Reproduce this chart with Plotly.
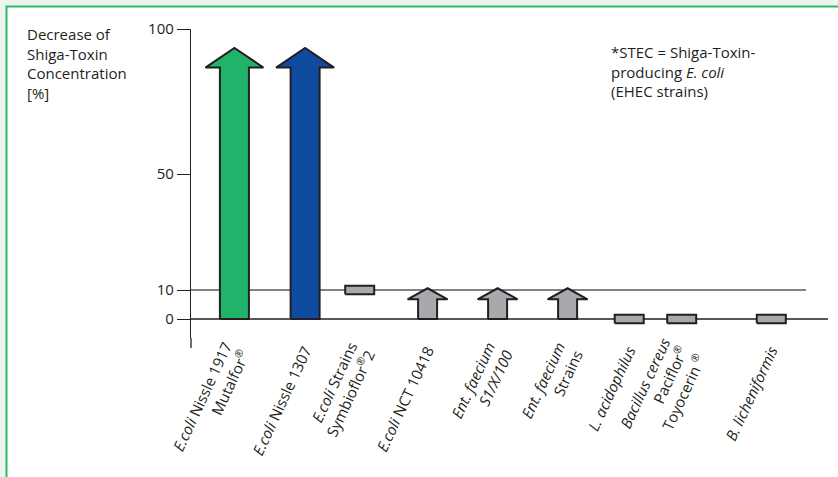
import plotly.graph_objects as go

# ---------------- data ----------------
categories = [
    "<i>E.coli</i> Nissle 1917<br>Mutalfor<sup>®</sup>",
    "<i>E.coli</i> Nissle 1307",
    "<i>E.coli</i> Strains<br>Symbioflor<sup>®</sup>2",
    "<i>E.coli</i> NCT 10418",
    "<i>Ent. faecium</i><br><i>S1/X/100</i>",
    "<i>Ent. faecium</i><br>Strains",
    "<i>L. acidophilus</i>",
    "<i>Bacillus cereus</i><br>Paciflor<sup>®</sup><br>Toyocerin <sup>®</sup>",
    "<i>B. licheniformis</i>",
]
values = [93.5, 93.5, 10, 10.6, 10.6, 10.6, 0, 0, 0]
kinds = ["arrow", "arrow", "bar", "arrow", "arrow", "arrow", "bar", "bar", "bar"]
colors = ["#22b36b", "#0f4c9f", "#a7a9ac", "#a7a9ac", "#a7a9ac",
          "#a7a9ac", "#a7a9ac", "#a7a9ac", "#a7a9ac"]
y_ticks = [0, 10, 50, 100]
ref_lines = [0, 10]

# category slot positions along the x axis
x_pos = [0.62, 1.63, 2.41, 3.38, 4.38, 5.38, 6.26, 7.01, 8.29]

# ---------------- layout geometry ----------------
W, H = 838, 477
PL, PR, PT = 191, 828, 29        # plot area pixels
PY0 = 319                        # pixel of y = 0
PXU = 2.9                        # pixels per y unit
PB = 338                         # plot bottom pixel
XMAX = 9.1
XU = (PR - PL) / XMAX            # pixels per x unit
ymin = -(PB - PY0) / PXU

def px2paper_x(px):
    return (px - PL) / (PR - PL)

def px2paper_y(py):
    return (PB - py) / (PB - PT)

DARK = "#231f20"
LINE = "#58595b"
FONT = "Open Sans"

fig = go.Figure()

for x, v, k, c in zip(x_pos, values, kinds, colors):
    if k == "arrow":
        big = v > 50
        sw = (14.5 if big else 9.5) / XU
        hw = (29 if big else 20) / XU
        hh = (19.7 if big else 11) / PXU
        hb = v - hh
        xs = [x - sw, x + sw, x + sw, x + hw, x, x - hw, x - sw, x - sw]
        ys = [0, 0, hb, hb, v, hb, hb, 0]
    else:
        sw = 14.5 / XU
        hh = 1.5
        xs = [x - sw, x + sw, x + sw, x - sw, x - sw]
        ys = [v - hh, v - hh, v + hh, v + hh, v - hh]
    fig.add_trace(go.Scatter(
        x=xs, y=ys, mode="lines", fill="toself", fillcolor=c,
        line=dict(color=DARK, width=2), hoverinfo="skip", showlegend=False,
    ))

shapes = []
# background frame
shapes.append(dict(type="rect", xref="paper", yref="paper", layer="below",
                   x0=px2paper_x(6.5), x1=px2paper_x(W + 20),
                   y0=px2paper_y(H + 20), y1=px2paper_y(6.5),
                   fillcolor="white", line=dict(color="#2dbb6a", width=2)))
# reference lines at 0 and 10
shapes.append(dict(type="line", xref="paper", yref="y", layer="below",
                   x0=0, x1=1, y0=ref_lines[0], y1=ref_lines[0],
                   line=dict(color=DARK, width=1.5)))
shapes.append(dict(type="line", xref="paper", yref="y", layer="below",
                   x0=0, x1=px2paper_x(806), y0=ref_lines[1], y1=ref_lines[1],
                   line=dict(color=LINE, width=1.5)))
# y axis extension below the plot area
shapes.append(dict(type="line", xref="paper", yref="paper",
                   x0=0, x1=0, y0=0, y1=px2paper_y(348),
                   line=dict(color=DARK, width=1.3)))

annotations = [
    dict(xref="paper", yref="paper", x=px2paper_x(25), y=px2paper_y(22),
         xanchor="left", yanchor="top", align="left", showarrow=False,
         text="Decrease of<br>Shiga-Toxin<br>Concentration<br>[%]",
         font=dict(family=FONT, size=15, color=DARK)),
    dict(xref="paper", yref="paper", x=px2paper_x(609), y=px2paper_y(40),
         xanchor="left", yanchor="top", align="left", showarrow=False,
         text="*STEC = Shiga-Toxin-<br>producing <i>E. coli</i><br>(EHEC strains)",
         font=dict(family=FONT, size=15, color=DARK)),
]

fig.update_layout(
    width=W, height=H,
    margin=dict(l=PL, r=W - PR, t=PT, b=H - PB, pad=0),
    paper_bgcolor="#eef5ee", plot_bgcolor="rgba(0,0,0,0)",
    shapes=shapes, annotations=annotations,
    font=dict(family=FONT, size=15, color=DARK),
    xaxis=dict(range=[0, XMAX], showgrid=False, zeroline=False, showline=False,
               tickmode="array", tickvals=x_pos, ticktext=categories,
               tickangle=-65, ticks="", tickfont=dict(size=15, color=DARK)),
    yaxis=dict(range=[ymin, 100], showgrid=False, zeroline=False,
               showline=True, linecolor=DARK, linewidth=1.3,
               tickmode="array", tickvals=y_ticks, ticks="outside",
               ticklen=13, tickcolor=DARK, tickwidth=1.3,
               tickfont=dict(size=15, color=DARK)),
)

fig.write_html("out.html", config={"displayModeBar": False},
               post_script="document.body.style.margin='0';document.body.style.overflow='hidden';")
